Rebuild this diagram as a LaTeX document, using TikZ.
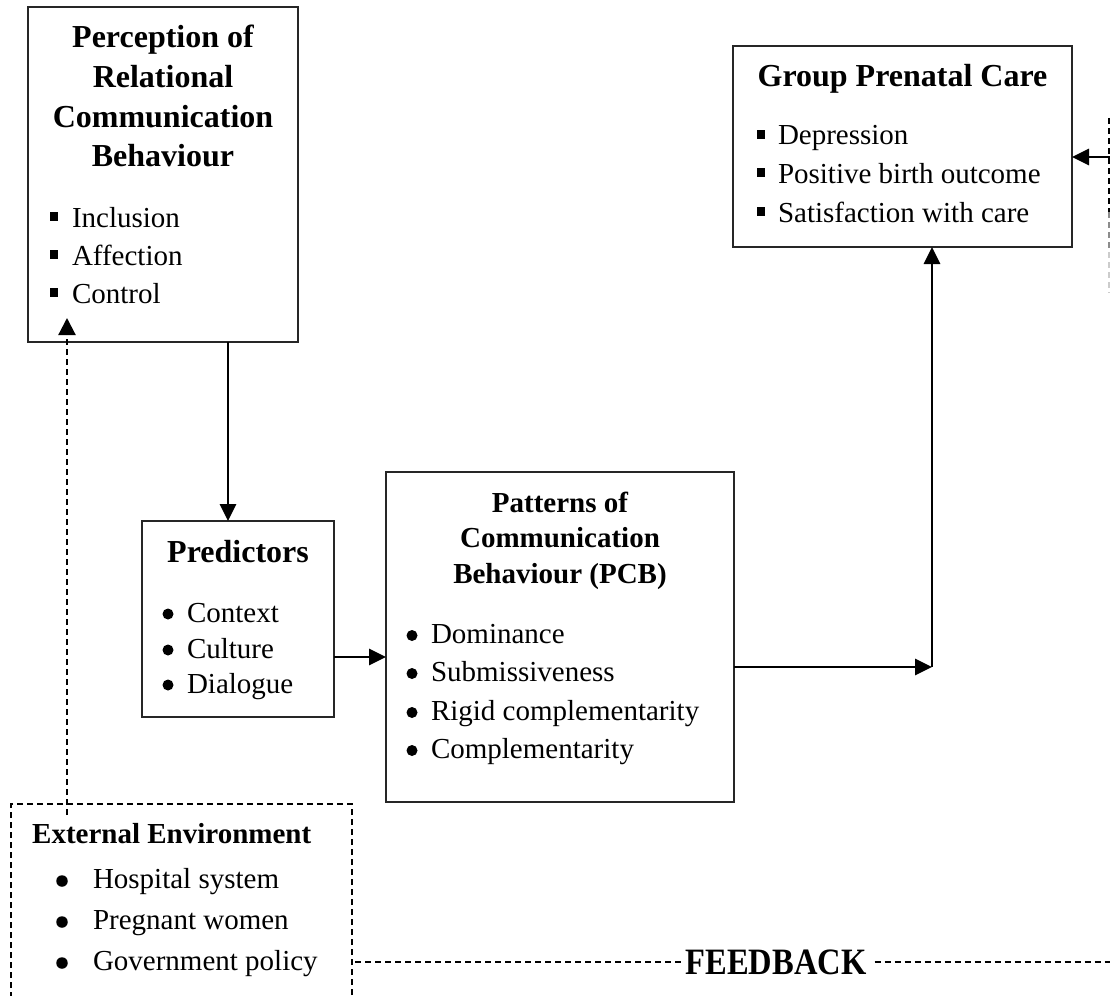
\documentclass[tikz,border=0pt]{standalone}
\usepackage{fontspec}
\setmainfont{Liberation Serif}
\usepackage{graphicx}
\usetikzlibrary{arrows.meta,calc}
\newcommand\bodyfont{\fontsize{29}{37}\selectfont}
\newcommand\titfont{\fontsize{32}{40}\selectfont\bfseries}
\newcommand\smtitfont{\fontsize{29}{36}\selectfont\bfseries}
\tikzset{
  box/.style={draw=black!85, line width=1.8pt, rectangle, inner sep=0pt, outer sep=0pt},
  dbox/.style={draw=black, line width=1.8pt, dash pattern=on 6pt off 4pt, rectangle, inner sep=0pt, outer sep=0pt},
  txt/.style={inner sep=0pt, outer sep=0pt, anchor=base west, font=\bodyfont},
  ttl/.style={inner sep=0pt, outer sep=0pt, anchor=base, font=\titfont},
  sttl/.style={inner sep=0pt, outer sep=0pt, anchor=base, font=\smtitfont},
  dot/.style={circle, fill=black, inner sep=0pt, minimum size=11pt},
  sq/.style={rectangle, fill=black, inner sep=0pt, minimum size=8.5pt},
  arr/.style={line width=2.8pt, -{Triangle[length=17pt,width=16pt]}},
  darr/.style={line width=2.2pt, dash pattern=on 6pt off 4pt, -{Triangle[length=17pt,width=17pt]}},
  dline/.style={line width=2pt, dash pattern=on 6pt off 4pt},
}
\begin{document}
\begin{tikzpicture}[x=1pt,y=-1pt]
\clip (0,0) rectangle (1110,995);
\fill[white] (0,0) rectangle (1110,995);

% ---- Perception of Relational Communication Behaviour
\node[box, minimum width=270pt, minimum height=335pt] (prc) at (163,174.5) {};
\node[ttl] (prc-t1) at (163,48) {Perception of};
\node[ttl] (prc-t2) at (163,88) {Relational};
\node[ttl] (prc-t3) at (163,128) {Communication};
\node[ttl] (prc-t4) at (163,167) {Behaviour};
\foreach \t/\y [count=\i] in {Inclusion/227, Affection/265, Control/303}{
  \node[sq] (prc-b\i) at (54,\y-10.5) {};
  \node[txt] (prc-l\i) at (72,\y) {\t};
}

% ---- Group Prenatal Care
\node[box, minimum width=339pt, minimum height=201pt] (grp) at (902.5,146.5) {};
\node[ttl] (grp-t) at (902.5,87) {Group Prenatal Care};
\foreach \t/\y [count=\i] in {Depression/145, Positive birth outcome/183, Satisfaction with care/222}{
  \node[sq] (grp-b\i) at (761,\y-10.5) {};
  \node[txt] (grp-l\i) at (778,\y) {\t};
}

% ---- Predictors
\node[box, minimum width=192pt, minimum height=196pt] (pred) at (238,619) {};
\node[ttl] (pred-t) at (238,562) {Predictors};
\foreach \t/\y [count=\i] in {Context/622, Culture/658, Dialogue/693}{
  \node[dot] (pred-b\i) at (168,\y-8) {};
  \node[txt] (pred-l\i) at (187,\y) {\t};
}

% ---- Patterns of Communication Behaviour
\node[box, minimum width=348pt, minimum height=330pt] (pcb) at (560,637) {};
\node[sttl] (pcb-t1) at (560,512) {Patterns of};
\node[sttl] (pcb-t2) at (560,547) {Communication};
\node[sttl] (pcb-t3) at (560,583) {Behaviour (PCB)};
\foreach \t/\y [count=\i] in {Dominance/643, Submissiveness/681, Rigid complementarity/720, Complementarity/758}{
  \node[dot] (pcb-b\i) at (412,\y-7.5) {};
  \node[txt] (pcb-l\i) at (431,\y) {\t};
}

% ---- External Environment
\node[dbox, minimum width=341pt, minimum height=230pt] (ext) at (181.5,919) {};
\node[inner sep=0pt, anchor=base west, font=\smtitfont] (ext-t) at (32,843) {External Environment};
\foreach \t/\y [count=\i] in {Hospital system/888, Pregnant women/929, Government policy/970}{
  \node[dot, minimum size=11.5pt] (ext-b\i) at (62,\y-7) {};
  \node[txt] (ext-l\i) at (93,\y) {\t};
}

% ---- Feedback
\node[inner sep=0pt, font=\fontsize{31}{31}\selectfont\bfseries] (fb) at (776,962) {\scalebox{1.05}[1.2]{FEEDBACK}};

% ---- coordinates
\coordinate (x228) at (228,0);
\coordinate (y657) at (0,657);
\coordinate (corner) at (932,667);
\coordinate (extIn) at (67,815);
\coordinate (ctlTip) at (67,318);
\coordinate (fbIn) at (1110,157);
\coordinate (rv1) at (1109,118);
\coordinate (rv2) at (1109,212);
\coordinate (rv3) at (1109,252);
\coordinate (rv4) at (1109,293);
\coordinate (fbEnd) at (1110,962);

% ---- connectors
\draw[arr] (prc.south -| x228) -- (pred.north -| x228);
\draw[arr] (pred.east |- y657) -- (pcb.west |- y657);
\draw[arr] (pcb.east |- corner) -- (corner);
\draw[arr] (corner) -- (corner |- grp.south);
\draw[arr] (fbIn) -- (grp.east |- fbIn);
\draw[darr] (extIn) -- (ctlTip);
\draw[dline] (rv1) -- (rv2);
\draw[dline, draw=black!45] (rv2) -- (rv3);
\draw[dline, draw=black!20] (rv3) -- (rv4);
\draw[dline] ($(ext.east |- fb)+(3,0)$) -- ($(fb.west)+(-4,0)$);
\draw[dline] ($(fb.east)+(8,0)$) -- (fbEnd);
\end{tikzpicture}
\end{document}
